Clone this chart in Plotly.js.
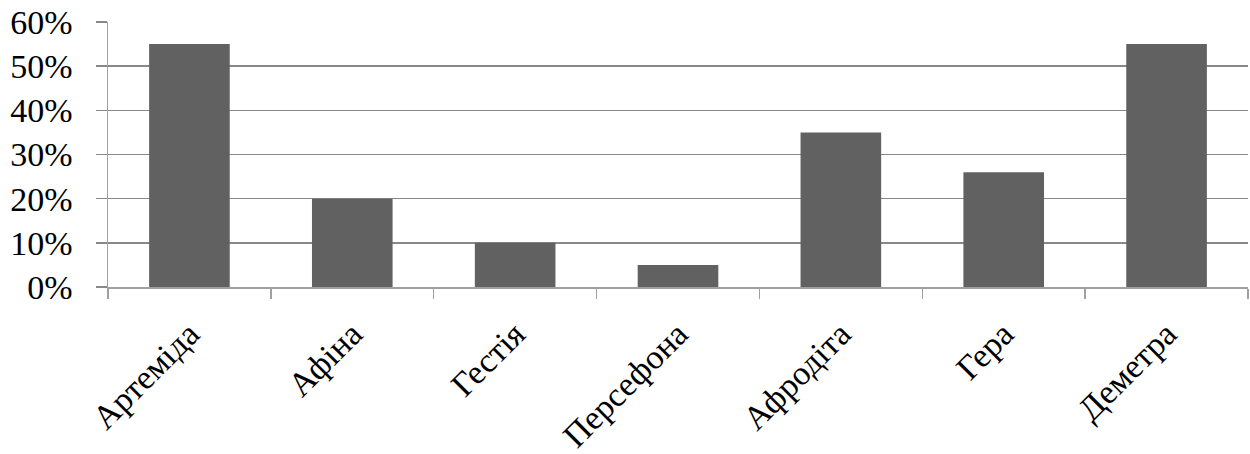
<!DOCTYPE html>
<html><head><meta charset="utf-8">
<script src="https://cdn.plot.ly/plotly-3.0.1.min.js"></script>
<style>html,body{margin:0;padding:0;background:#fff}</style>
</head><body><div id="chart" style="width:1250px;height:454px"></div>
<script>
var categories = ["Артеміда","Афіна","Гестія","Персефона","Афродіта","Гера","Деметра"];
var values = [0.55, 0.20, 0.10, 0.05, 0.35, 0.26, 0.55];
var tickVals = [0,0.1,0.2,0.3,0.4,0.5,0.6];
var tickText = ["0%","10%","20%","30%","40%","50%","60%"];

var trace = {type:'bar', x:categories, y:values, marker:{color:'#616161', line:{width:0}}};
var layout = {
  width:1250, height:454,
  margin:{l:108, r:2, t:22, b:167},
  paper_bgcolor:'#fff', plot_bgcolor:'#fff',
  bargap:0.505,
  showlegend:false,
  font:{family:'Liberation Serif, serif', color:'#000', size:34},
  xaxis:{tickangle:-45, tickson:'boundaries', ticks:'outside', ticklen:10, tickwidth:1.5, tickcolor:'#a0a0a0',
         showline:true, linecolor:'#a0a0a0', linewidth:1.5, showgrid:false, zeroline:false,
         tickfont:{family:'Liberation Serif, serif', size:34}, ticklabelstandoff:12},
  yaxis:{range:[0,0.6], tickvals:tickVals, ticktext:tickText, ticks:'outside', ticklen:11, tickwidth:1.5, tickcolor:'#888888',
         showline:true, linecolor:'#a0a0a0', linewidth:1.5, showgrid:true, gridcolor:'#888888', gridwidth:1.5,
         zeroline:false, tickfont:{family:'Liberation Serif, serif', size:34}, ticklabelstandoff:16}
};
Plotly.newPlot('chart',[trace],layout,{displayModeBar:false, staticPlot:true});
</script></body></html>
